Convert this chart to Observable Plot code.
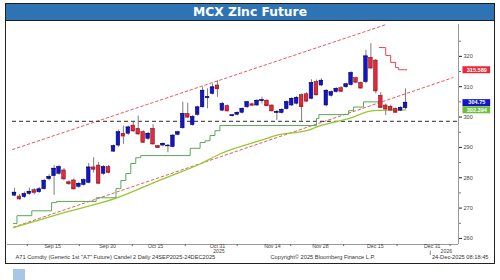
<!DOCTYPE html>
<html><head><meta charset="utf-8">
<script src="https://cdn.jsdelivr.net/npm/d3@7"></script>
<script src="https://cdn.jsdelivr.net/npm/@observablehq/plot@0.6"></script>
<style>
html,body{margin:0;padding:0;background:#fff;width:500px;height:280px;overflow:hidden;}
#title{position:absolute;left:5px;top:3px;width:490px;height:18px;box-sizing:border-box;background:#2e74b5;border:1px solid #1d1d1d;color:#fff;font:bold 12.3px "DejaVu Sans",sans-serif;text-align:center;line-height:16px;}
#frame{position:absolute;left:5px;top:20px;width:490px;height:244px;box-sizing:border-box;border:1.5px solid #222;border-top:none;}
#chart{position:absolute;left:0;top:20px;}
#mark{position:absolute;left:13px;top:269px;width:12px;height:11px;background:#a9c6e6;}
</style></head><body>
<div id="title">MCX Zinc Future</div>
<div id="frame"></div>
<div id="chart"></div>
<div id="mark"></div>
<script>
// ---- data ----
const candleOpen  = [274.1,273.8,273.6,274.6,275.9,275.2,276.2,279.5,280.5,281.3,282.4,278.5,279.1,277.0,277.6,278.3,283.4,284.0,281.3,283.5,
                     288.6,290.6,294.5,294.5,297.2,296.1,295.0,292.8,296.1,290.4,290.6,290.4,290.1,294.1,296.3,301.0,297.3,300.7,303.2,306.3,
                     307.6,310.4,302.1,303.6,300.3,300.7,301.4,303.2,304.2,303.8,305.3,305.4,303.8,301.4,301.3,302.6,303.8,304.4,307.2,307.5,
                     306.0,311.5,310.4,303.8,307.0,308.2,309.5,309.8,310.5,312.8,311.2,311.5,319.5,318.6,307.0,303.8,303.4,302.7,302.1,302.9];
const candleHigh  = [276.5,274.5,275.3,276.6,276.4,276.8,279.5,281.0,284.0,284.0,283.0,279.0,279.6,278.5,279.6,284.7,286.6,285.0,284.0,284.0,
                     290.8,295.7,297.0,297.0,298.2,300.3,295.5,295.0,297.5,290.7,291.5,291.0,294.2,295.3,304.9,304.5,300.5,303.6,309.8,309.3,
                     310.9,312.0,304.8,304.0,300.9,301.7,303.0,305.2,304.6,305.7,306.5,305.7,304.0,302.2,302.8,305.3,306.4,306.8,307.6,308.0,
                     312.3,312.2,312.6,309.0,308.6,309.7,310.0,311.2,314.9,313.2,311.6,322.0,324.2,319.0,308.0,304.3,303.9,303.0,303.4,309.3];
const candleLow   = [273.8,272.6,273.2,274.2,274.4,274.9,275.9,279.0,274.2,280.8,279.0,277.5,276.0,276.5,277.2,278.0,281.5,277.8,280.8,281.3,
                     288.3,290.0,291.0,294.0,295.0,294.0,291.3,292.3,290.8,289.6,290.2,288.2,289.8,293.8,296.0,299.5,297.0,300.3,303.0,302.7,
                     307.3,306.5,301.8,301.7,300.0,300.4,301.0,302.9,303.6,303.5,304.3,303.5,301.8,298.8,301.0,302.3,303.5,304.0,298.6,304.8,
                     305.7,307.0,310.0,303.4,306.6,307.9,308.2,309.5,310.2,311.1,309.2,311.0,315.8,307.6,302.8,300.5,301.8,301.2,301.8,302.5];
const candleClose = [275.1,273.1,274.6,275.4,275.2,276.2,279.0,280.3,283.0,283.5,279.7,278.1,276.4,278.0,279.2,283.4,282.8,278.2,283.5,281.8,
                     290.4,295.0,293.8,296.6,295.5,294.5,291.7,294.5,291.2,290.0,291.2,290.6,293.9,295.0,301.0,300.0,300.0,303.2,308.7,306.6,
                     309.8,309.4,304.3,302.1,300.6,301.4,302.7,304.9,303.9,305.4,305.6,303.8,302.1,301.7,302.4,304.9,306.0,306.3,303.5,305.3,
                     311.2,307.4,312.0,308.7,308.2,309.3,308.5,310.8,314.5,311.5,309.6,320.0,316.2,308.7,303.2,302.7,302.4,301.6,303.0,304.75];

// trailing stop (long side, green) : candle index where a level starts, and the level
const stopLongIdx = [-0.2,0.5,3.5,7.5,8.5,16.5,20.5,21.5,22.5,23.5,24.5,25.5,35.5,37.5,38.5,39.5,40.5,41.5,61,61.5,67.5,68.5,70.5,73.5];
const stopLongVal = [264.9,267.5,269.1,271.8,272.2,273.4,276.4,279.1,281.4,284.7,286.6,287.3,289.7,291.6,292.2,293.9,295.5,297.2,299.5,300.8,302.1,303.3,305.0,305.0];
// trailing stop (short side, red)
const stopShortIdx = [73.7,75,76,77,77.6,79.3];
const stopShortVal = [322.9,320.3,318.0,316.3,315.589,315.589];
// moving average
const maIdx = [-0.2,10.7,20.4,29.5,37.6,41.6,49.7,52.7,59.2,61.8,63.8,67.3,72.5,79];
const maVal = [263.6,268.8,273.2,279.3,284.6,287.9,292.3,293.9,295.6,297.2,298.0,299.4,302.1,302.394];
// trend channel
const channelUpperIdx = [-0.4,75.1];
const channelUpperVal = [289.3,330.5];
const channelLowerIdx = [-0.2,88.6];
const channelLowerVal = [263.7,313.0];
const supportLevel = 298.6;

const yTicks = [260,270,280,290,300,310,320];
const yMinorTicks = [265,275,285,295,305,315,325];
const xTickIdx = [7.7,18.8,28.5,41,52.1,61.8,72.9,84.4];
const xTickLabels = ["Sep 15","Sep 30","Oct 15","Oct 31","Nov 14","Nov 28","Dec 15","Dec 31"];
const xMinorIdx = [2.6,13.1,23.8,34.5,45,55.8,66.5,77.3,88];
const yearLabels = ["2025","2026"];
const yearBreakIdx = 84;
const tagNames = ["stop","last","ma"];
const tagValues = [315.589,304.75,302.394];
const tagLabels = ["315.589","304.75","302.394"];
const footerLeft = "A71 Comdty (Generic 1st \"A7\" Future) Candel 2 Daily 24SEP2025-24DEC2025";
const footerMid = "Copyright\u00A9 2025 Bloomberg Finance L.P.";
const footerRight = "24-Dec-2025 08:18:45";

// ---- build ----
const xDomain = [-1.41, 89.7];
const yDomain = [258, 330.5];
const candles = candleOpen.map((o, i) => ({i, open: o, high: candleHigh[i], low: candleLow[i], close: candleClose[i]}));
const up = d => d.close >= d.open;
const pts = (xs, ys) => xs.map((x, k) => ({x, y: ys[k]}));
const tagColor = {stop: "#e8283a", last: "#1414c8", ma: "#6cbf3a"};
const tags = tagNames.map((n, k) => ({n, v: tagValues[k], t: tagLabels[k]}));
const years = [
  {x: (xDomain[0] + yearBreakIdx) / 2, t: yearLabels[0]},
  {x: (yearBreakIdx + xDomain[1]) / 2 + 0.4, t: yearLabels[1]}
];
const font = "'Liberation Sans', Arial, sans-serif";
const ax = 5.2;

const chart = Plot.plot({
  width: 500, height: 243,
  marginLeft: 7, marginRight: 42, marginTop: 4, marginBottom: 19,
  x: {domain: xDomain},
  y: {domain: yDomain},
  style: {background: "transparent", fontFamily: font, overflow: "visible"},
  marks: [
    // axis lines
    Plot.ruleY([yDomain[0]], {stroke: "#9a9a9a", strokeWidth: 1}),
    Plot.ruleX([xDomain[1]], {stroke: "#9a9a9a", strokeWidth: 1}),
    Plot.axisY({anchor: "right", ticks: yMinorTicks, tickSize: 2, tickFormat: () => "", stroke: "#777"}),
    Plot.axisY({anchor: "right", ticks: yTicks, tickSize: 3, tickPadding: 2, fontSize: 5.6, fill: "#444", stroke: "#222", tickFormat: d => String(d)}),
    Plot.axisX({ticks: xMinorIdx, tickSize: 2, tickFormat: () => "", stroke: "#666"}),
    Plot.text(xTickLabels.map((t, k) => ({x: xTickIdx[k], t})), {x: "x", text: "t", frameAnchor: "bottom", dy: 3.6, fontSize: ax, fill: "#444"}),
    Plot.text(years, {x: "x", text: "t", frameAnchor: "bottom", dy: 8.9, fontSize: ax, fill: "#444"}),
    Plot.ruleX([yearBreakIdx], {y1: yDomain[0], y2: yDomain[0], stroke: "#888", insetTop: 6.6, insetBottom: -11}),
    // channel and support
    Plot.line(pts(channelUpperIdx, channelUpperVal), {x: "x", y: "y", stroke: "#e5484d", strokeWidth: 0.9, strokeDasharray: "2.6,2.6"}),
    Plot.line(pts(channelLowerIdx, channelLowerVal), {x: "x", y: "y", stroke: "#e5484d", strokeWidth: 0.9, strokeDasharray: "2.6,2.6"}),
    Plot.ruleY([supportLevel], {x1: -0.4, x2: xDomain[1], stroke: "#111", strokeWidth: 0.9, strokeDasharray: "4,3"}),
    // indicators
    Plot.line(pts(maIdx, maVal), {x: "x", y: "y", stroke: "#96c832", strokeWidth: 1.3, curve: "monotone-x"}),
    Plot.line(pts(stopLongIdx, stopLongVal), {x: "x", y: "y", stroke: "#58a858", strokeWidth: 1, curve: "step-after"}),
    Plot.line(pts(stopShortIdx, stopShortVal), {x: "x", y: "y", stroke: "#e5484d", strokeWidth: 1, curve: "step-after"}),
    // candles
    Plot.ruleX(candles, {x: "i", y1: "low", y2: "high", stroke: "#7d7d7d", strokeWidth: 1}),
    Plot.ruleY(candles, {y: "close", x1: d => d.i - 0.42, x2: d => d.i + 0.42, stroke: d => up(d) ? "#1414c8" : "#e8283a", strokeWidth: 1.2}),
    Plot.rect(candles, {x1: d => d.i - 0.37, x2: d => d.i + 0.37, y1: "open", y2: "close",
      fill: d => up(d) ? "#1414c8" : "#e8283a", stroke: d => up(d) ? "#0a0a50" : "#5a1016", strokeWidth: 0.5}),
    // value tags
    Plot.ruleY(tags, {y: "v", x1: xDomain[1] + 0.9, x2: xDomain[1] + 6.5, stroke: d => tagColor[d.n], strokeWidth: 7}),
    Plot.text(tags, {y: "v", x: xDomain[1] + 3.7, text: "t", fill: "white", fontSize: 5.6, fontWeight: "bold"}),
    // footer
    Plot.text([footerLeft], {frameAnchor: "bottom-left", dx: 8, dy: 14.1, textAnchor: "start", fontSize: 5.7, fill: "#333"}),
    Plot.text([footerMid], {frameAnchor: "bottom-left", dx: 263, dy: 14.1, textAnchor: "start", fontSize: 5.7, fill: "#333"}),
    Plot.text([footerRight], {frameAnchor: "bottom-right", dx: 30, dy: 14.1, textAnchor: "end", fontSize: 5.7, fill: "#333"})
  ]
});
document.getElementById("chart").appendChild(chart);
</script>
</body></html>
